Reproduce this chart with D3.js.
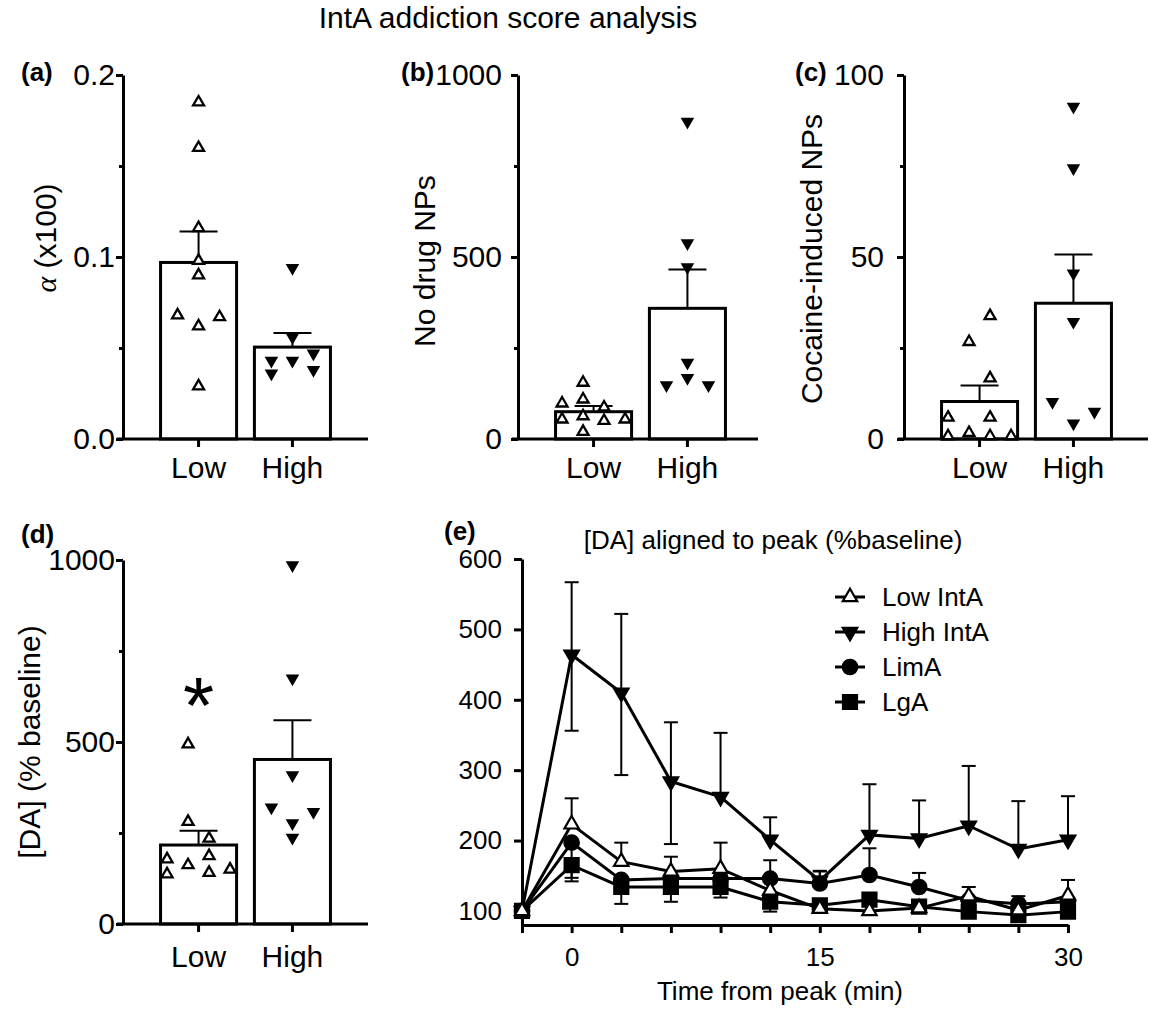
<!DOCTYPE html>
<html>
<head>
<meta charset="utf-8">
<script src="https://cdn.jsdelivr.net/npm/d3@7"></script>
<style>
  body { margin: 0; background: #fff; }
  text { font-family: "Liberation Sans", Arial, sans-serif; fill: #000; }
</style>
</head>
<body>
<svg id="fig" width="1149" height="1009"></svg>
<script>
// ---------------- data ----------------
var groups = ['Low', 'High'];

// (a) alpha (x100)
var aLow = [0.185, 0.160, 0.116, 0.098, 0.090, 0.068, 0.067, 0.062, 0.029];
var aLowSlot = [0, 0, 0, 0, 0, -1, 1, 0, 0];
var aHigh = [0.094, 0.056, 0.047, 0.043, 0.043, 0.038, 0.036];
var aHighSlot = [0, 0, 1, -1, 0, 1, -1];
var aMean = [0.097, 0.0505];
var aSem = [0.017, 0.0077];

// (b) no drug NPs
var bLow = [155, 109, 98, 87, 63, 54, 54, 50, 20];
var bLowSlot = [-0.5, -0.5, -1.5, 0.5, -0.5, -1.5, 1.5, 0.5, -0.5];
var bHigh = [872, 538, 472, 210, 168, 148, 148];
var bHighSlot = [0, 0, 0, 0, 0, -1, 1];
var bMean = [75, 359];
var bSem = [16, 107];

// (c) cocaine-induced NPs
var cLow = [33.8, 26.7, 16.7, 5.9, 5.9, 1.7, 0.8, 0.8, 0.8];
var cLowSlot = [0.5, -0.5, 0.5, -1.5, 0.5, -0.5, -1.5, 0.5, 1.5];
var cHigh = [91.3, 74.4, 45.5, 32.2, 10.2, 7.5, 4.3];
var cHighSlot = [0, 0, 0, 0, -1, 1, 0];
var cMean = [10.3, 37.3];
var cSem = [4.4, 13.4];

// (d) [DA] % baseline
var dLow = [494, 281, 235, 187, 178, 162, 150, 141, 137];
var dLowSlot = [-0.5, -0.5, 0.5, 0.5, -1.5, -0.5, 1.5, 0.5, -1.5];
var dHigh = [986, 675, 409, 320, 308, 277, 237];
var dHighSlot = [0, 0, 0, -1, 1, 0, 0];
var dMean = [217, 452];
var dSem = [39, 108];

// (e) [DA] aligned to peak
var time = [-3, 0, 3, 6, 9, 12, 15, 18, 21, 24, 27, 30];
var lowIntA  = [100, 223, 170, 156, 160, 129, 103, 100, 104, 121, 101, 122];
var highIntA = [100, 464, 410, 284, 262, 201, 143, 208, 203, 221, 188, 201];
var limA     = [100, 197, 144, 146, 146, 146, 139, 151, 134, 115, 110, 113];
var lgA      = [100, 165, 134, 134, 134, 113, 108, 116, 106, 99, 94, 99];
var lowIntAUp  = [null, 37, 27, 21, 37, null, null, null, null, 13, null, 22];
var highIntAUp = [null, 103, 112, 84, 91, 32, 13, 72, 54, 85, 68, 62];
var highIntADn = [null, 108, 117, 89, null, null, null, null, null, null, null, null];
var limAUp     = [null, null, null, null, null, 26, 18, 38, 20, null, 11, null];
var limADn     = [null, 55, null, null, null, null, null, null, null, null, null, null];
var lgADn      = [null, 18, 24, 21, 15, 14, null, null, null, null, null, null];
var eYTicks = [100, 200, 300, 400, 500, 600];
var eXTicks = d3.range(-3, 31, 3);
var eXLabels = [0, 15, 30];

var svg = d3.select('#fig');

// main title
svg.append('text')
    .attr('x', 508).attr('y', 28)
    .attr('text-anchor', 'middle')
    .attr('font-size', 30)
    .text('IntA addiction score analysis');

// ---------------- bar + scatter panels ----------------
function drawBars(p) {
    var g = svg.append('g');
    var y = d3.scaleLinear().domain([0, p.max]).range([p.bottom, p.top]);
    var x = d3.scaleBand().domain(groups)
        .range([p.left, p.left + 245])
        .paddingInner(0.19).paddingOuter(0.4);
    var bw = x.bandwidth();
    var cx = d => x(d) + bw / 2;

    // bars
    g.selectAll('rect.bar')
        .data(groups)
      .enter().append('rect')
        .attr('class', 'bar')
        .attr('x', d => x(d))
        .attr('width', bw)
        .attr('y', (d, i) => y(p.mean[i]))
        .attr('height', (d, i) => p.bottom - y(p.mean[i]))
        .attr('fill', '#fff')
        .attr('stroke', '#000')
        .attr('stroke-width', 3);

    // SEM (upward only)
    groups.forEach(function(gr, i) {
        var top = y(p.mean[i] + p.sem[i]);
        g.append('line')
            .attr('x1', cx(gr)).attr('x2', cx(gr))
            .attr('y1', y(p.mean[i])).attr('y2', top)
            .attr('stroke', '#000').attr('stroke-width', 2);
        g.append('line')
            .attr('x1', cx(gr) - 19).attr('x2', cx(gr) + 19)
            .attr('y1', top).attr('y2', top)
            .attr('stroke', '#000').attr('stroke-width', 2);
    });

    // y axis
    var ya = g.append('g')
        .attr('transform', `translate(${p.left},0)`)
        .call(d3.axisLeft(y).tickValues(p.major).tickFormat(d3.format(p.fmt))
            .tickSize(7).tickSizeOuter(0).tickPadding(p.pad));
    ya.attr('font-size', 30).attr('font-family', null);
    ya.select('.domain').attr('stroke-width', 3);
    ya.selectAll('.tick line').attr('stroke-width', 3);
    var ym = g.append('g')
        .attr('transform', `translate(${p.left},0)`)
        .call(d3.axisLeft(y).tickValues(p.minor).tickFormat('').tickSize(4));
    ym.select('.domain').remove();
    ym.selectAll('.tick line').attr('stroke-width', 3);

    // x axis
    g.append('line')
        .attr('x1', p.left - 6).attr('x2', p.right)
        .attr('y1', p.bottom).attr('y2', p.bottom)
        .attr('stroke', '#000').attr('stroke-width', 3);
    var xa = g.append('g')
        .attr('transform', `translate(0,${p.bottom})`)
        .call(d3.axisBottom(x).tickSize(8).tickPadding(p.xpad));
    xa.attr('font-size', 30).attr('font-family', null);
    xa.select('.domain').remove();
    xa.selectAll('.tick line').attr('stroke-width', 3);

    // individual points
    var tri = d3.symbol().type(d3.symbolTriangle).size(52);
    g.selectAll('path.lowpt')
        .data(p.low)
      .enter().append('path')
        .attr('class', 'lowpt')
        .attr('d', tri)
        .attr('transform', (d, i) => `translate(${cx('Low') + p.lowSlot[i] * 21},${y(d)})`)
        .attr('fill', '#fff').attr('stroke', '#000').attr('stroke-width', 2.3);
    g.selectAll('path.highpt')
        .data(p.high)
      .enter().append('path')
        .attr('class', 'highpt')
        .attr('d', tri)
        .attr('transform', (d, i) => `translate(${cx('High') + p.highSlot[i] * 21},${y(d)}) rotate(180)`)
        .attr('fill', '#000').attr('stroke', '#000').attr('stroke-width', 1.5);

    // y label
    var lab = g.append('text')
        .attr('transform', `translate(${p.labelX},${p.labelY}) rotate(-90)`)
        .attr('text-anchor', 'middle')
        .attr('dy', '0.35em')
        .attr('font-size', 30);
    if (p.alpha) {
        lab.append('tspan').attr('font-family', '"Liberation Serif", serif')
            .attr('font-style', 'italic').text('α');
        lab.append('tspan').text(' (x100)');
    } else {
        lab.text(p.label);
    }

    // panel tag
    g.append('text')
        .attr('x', p.tagX).attr('y', p.tagY)
        .attr('font-size', 26).attr('font-weight', 'bold')
        .text(p.tag);

    return {g: g, x: x, y: y, cx: cx};
}

drawBars({tag: '(a)', tagX: 21, tagY: 81, left: 123, right: 368, top: 75, bottom: 439,
    max: 0.2, major: [0, 0.1, 0.2], minor: [0.05, 0.15], fmt: '.1f', pad: 1, xpad: 10,
    alpha: true, labelX: 45, labelY: 238,
    low: aLow, lowSlot: aLowSlot, high: aHigh, highSlot: aHighSlot, mean: aMean, sem: aSem});

drawBars({tag: '(b)', tagX: 401, tagY: 81, left: 518, right: 758, top: 75, bottom: 439,
    max: 1000, major: [0, 500, 1000], minor: [250, 750], fmt: 'd', pad: 9, xpad: 10,
    label: 'No drug NPs', labelX: 424, labelY: 261,
    low: bLow, lowSlot: bLowSlot, high: bHigh, highSlot: bHighSlot, mean: bMean, sem: bSem});

drawBars({tag: '(c)', tagX: 795, tagY: 81, left: 904, right: 1148, top: 75, bottom: 439,
    max: 100, major: [0, 50, 100], minor: [25, 75], fmt: 'd', pad: 13, xpad: 10,
    label: 'Cocaine-induced NPs', labelX: 811, labelY: 259,
    low: cLow, lowSlot: cLowSlot, high: cHigh, highSlot: cHighSlot, mean: cMean, sem: cSem});

var pd = drawBars({tag: '(d)', tagX: 21, tagY: 543, left: 123, right: 368, top: 560, bottom: 924,
    max: 1000, major: [0, 500, 1000], minor: [250, 750], fmt: 'd', pad: 1, xpad: 14,
    label: '[DA] (% baseline)', labelX: 29, labelY: 742,
    low: dLow, lowSlot: dLowSlot, high: dHigh, highSlot: dHighSlot, mean: dMean, sem: dSem});

// significance star over Low in (d)
pd.g.append('text')
    .attr('x', pd.cx('Low')).attr('y', 733)
    .attr('text-anchor', 'middle')
    .attr('font-size', 80)
    .text('*');

// ---------------- (e) time course ----------------
var ex = d3.scaleLinear().domain([-3, 30]).range([522, 1068]);
var ey = d3.scaleLinear().domain([80, 600]).range([925, 559]);
var ge = svg.append('g');

var eya = ge.append('g')
    .attr('transform', 'translate(522,0)')
    .call(d3.axisLeft(ey).tickValues(eYTicks).tickSize(8).tickSizeOuter(0).tickPadding(12));
eya.attr('font-size', 26).attr('font-family', null);
eya.select('.domain').attr('stroke-width', 3);
eya.selectAll('.tick line').attr('stroke-width', 3);

var exa = ge.append('g')
    .attr('transform', 'translate(0,925)')
    .call(d3.axisBottom(ex).tickValues(eXTicks).tickSize(8).tickSizeOuter(0).tickPadding(15)
        .tickFormat(d => eXLabels.includes(d) ? d : ''));
exa.attr('font-size', 26).attr('font-family', null);
exa.select('.domain').attr('stroke-width', 3);
exa.selectAll('.tick line').attr('stroke-width', 3);

ge.append('text')
    .attr('x', 780).attr('y', 1000)
    .attr('text-anchor', 'middle').attr('font-size', 26)
    .text('Time from peak (min)');

ge.append('text')
    .attr('x', 773).attr('y', 549)
    .attr('text-anchor', 'middle').attr('font-size', 26)
    .text('[DA] aligned to peak (%baseline)');

ge.append('text')
    .attr('x', 444).attr('y', 540)
    .attr('font-size', 26).attr('font-weight', 'bold')
    .text('(e)');

var shapes = {
    up: {type: d3.symbolTriangle, size: 90, fill: '#fff', rot: 0},
    down: {type: d3.symbolTriangle, size: 90, fill: '#000', rot: 180},
    circle: {type: d3.symbolCircle, size: 165, fill: '#000', rot: 0},
    square: {type: d3.symbolSquare, size: 196, fill: '#000', rot: 0}
};

var series = [
    {name: 'High IntA', vals: highIntA, up: highIntAUp, dn: highIntADn, shape: 'down'},
    {name: 'LimA', vals: limA, up: limAUp, dn: limADn, shape: 'circle'},
    {name: 'LgA', vals: lgA, up: null, dn: lgADn, shape: 'square'},
    {name: 'Low IntA', vals: lowIntA, up: lowIntAUp, dn: null, shape: 'up'}
];

var line = d3.line().x((d, i) => ex(time[i])).y(d => ey(d));

function marker(sel, shape) {
    var s = shapes[shape];
    sel.attr('d', d3.symbol().type(s.type).size(s.size))
        .attr('fill', s.fill).attr('stroke', '#000').attr('stroke-width', 2.2);
}

series.forEach(function(s) {
    ge.append('path')
        .datum(s.vals)
        .attr('d', line)
        .attr('fill', 'none').attr('stroke', '#000').attr('stroke-width', 3);

    [['up', 1], ['dn', -1]].forEach(function(e) {
        var arr = s[e[0]];
        if (!arr) return;
        arr.forEach(function(v, i) {
            if (v == null) return;
            var xx = ex(time[i]);
            var yEnd = ey(s.vals[i] + e[1] * v);
            ge.append('line')
                .attr('x1', xx).attr('x2', xx)
                .attr('y1', ey(s.vals[i])).attr('y2', yEnd)
                .attr('stroke', '#000').attr('stroke-width', 2);
            ge.append('line')
                .attr('x1', xx - 7).attr('x2', xx + 7)
                .attr('y1', yEnd).attr('y2', yEnd)
                .attr('stroke', '#000').attr('stroke-width', 2);
        });
    });

    ge.selectAll(null)
        .data(s.vals)
      .enter().append('path')
        .call(marker, s.shape)
        .attr('transform', (d, i) => `translate(${ex(time[i])},${ey(d)}) rotate(${shapes[s.shape].rot})`);
});

// legend
var legendOrder = ['Low IntA', 'High IntA', 'LimA', 'LgA'];
var legendShape = ['up', 'down', 'circle', 'square'];
var lg = ge.append('g');
legendOrder.forEach(function(name, i) {
    var yy = 597 + i * 35;
    lg.append('line')
        .attr('x1', 835).attr('x2', 865).attr('y1', yy).attr('y2', yy)
        .attr('stroke', '#000').attr('stroke-width', 3);
    lg.append('path')
        .call(marker, legendShape[i])
        .attr('transform', `translate(850,${yy}) rotate(${shapes[legendShape[i]].rot})`);
    lg.append('text')
        .attr('x', 882).attr('y', yy).attr('dy', '0.35em')
        .attr('font-size', 26)
        .text(name);
});
</script>
</body>
</html>
